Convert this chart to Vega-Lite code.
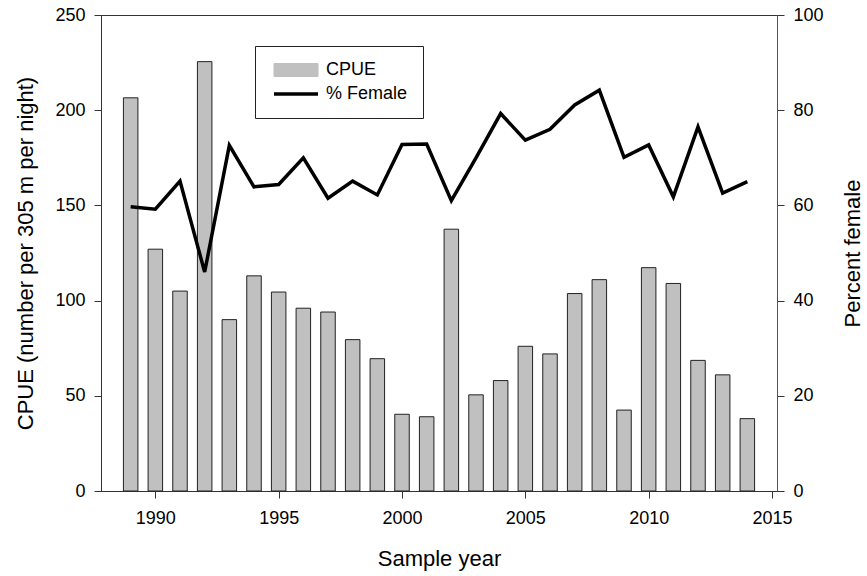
{
  "$schema": "https://vega.github.io/schema/vega-lite/v6.json",
  "width": 676,
  "height": 476,
  "autosize": "none",
  "padding": {"left": 101, "top": 15, "right": 90, "bottom": 85},
  "background": "white",
  "config": {
    "font": "Liberation Sans",
    "view": {"stroke": "#333333", "strokeWidth": 1},
    "axis": {
      "grid": false,
      "labelFont": "Liberation Sans",
      "titleFont": "Liberation Sans",
      "labelFontSize": 18,
      "titleFontSize": 22,
      "titleFontWeight": "normal",
      "labelColor": "black",
      "titleColor": "black",
      "domainColor": "#333333",
      "tickColor": "#333333",
      "tickSize": 7,
      "domainWidth": 1,
      "tickWidth": 1
    }
  },
  "data": {
    "values": [
      {"year": 1989, "cpue": 206.5, "female": 59.7},
      {"year": 1990, "cpue": 127.0, "female": 59.2},
      {"year": 1991, "cpue": 105.0, "female": 65.1},
      {"year": 1992, "cpue": 225.5, "female": 46.0},
      {"year": 1993, "cpue": 90.0, "female": 72.6},
      {"year": 1994, "cpue": 113.0, "female": 63.9},
      {"year": 1995, "cpue": 104.5, "female": 64.4},
      {"year": 1996, "cpue": 96.0, "female": 70.0},
      {"year": 1997, "cpue": 94.0, "female": 61.5},
      {"year": 1998, "cpue": 79.5, "female": 65.1},
      {"year": 1999, "cpue": 69.5, "female": 62.2},
      {"year": 2000, "cpue": 40.3, "female": 72.8},
      {"year": 2001, "cpue": 39.0, "female": 72.9},
      {"year": 2002, "cpue": 137.5, "female": 61.0},
      {"year": 2003, "cpue": 50.5, "female": 70.0},
      {"year": 2004, "cpue": 58.0, "female": 79.3},
      {"year": 2005, "cpue": 76.0, "female": 73.7},
      {"year": 2006, "cpue": 72.0, "female": 76.0},
      {"year": 2007, "cpue": 103.7, "female": 81.1},
      {"year": 2008, "cpue": 111.0, "female": 84.2},
      {"year": 2009, "cpue": 42.5, "female": 70.1},
      {"year": 2010, "cpue": 117.3, "female": 72.7},
      {"year": 2011, "cpue": 109.0, "female": 61.8},
      {"year": 2012, "cpue": 68.6, "female": 76.5},
      {"year": 2013, "cpue": 61.0, "female": 62.6},
      {"year": 2014, "cpue": 38.0, "female": 65.0}
    ]
  },
  "encoding": {
    "x": {
      "field": "year",
      "type": "quantitative",
      "scale": {"domain": [1988, 2015], "nice": false, "zero": false},
      "axis": {
        "title": "Sample year",
        "values": [1990, 1995, 2000, 2005, 2010, 2015],
        "format": "d",
        "labelPadding": 11,
        "titlePadding": 21,
        "labelFlush": false
      }
    }
  },
  "layer": [
    {
      "mark": {"type": "bar", "size": 14.5, "stroke": "#222222", "strokeWidth": 1},
      "encoding": {
        "y": {
          "field": "cpue",
          "type": "quantitative",
          "scale": {"domain": [0, 250], "nice": false},
          "axis": {
            "title": "CPUE (number per 305 m per night)",
            "orient": "left",
            "values": [0, 50, 100, 150, 200, 250],
            "labelPadding": 9,
            "titlePadding": 17,
            "labelFlush": false
          }
        },
        "color": {
          "datum": "CPUE",
          "type": "nominal",
          "scale": {"domain": ["CPUE", "% Female"], "range": ["#c0c0c0", "#000000"]},
          "legend": {
            "title": null,
            "orient": "none",
            "legendX": 154,
            "legendY": 31,
            "padding": 15,
            "rowPadding": 6,
            "strokeColor": "#222222",
            "fillColor": "white",
            "labelFont": "Liberation Sans",
            "labelFontSize": 18,
            "labelColor": "black",
            "symbolSize": 100,
            "labelOffset": 38,
            "encode": {
              "symbols": {
                "update": {
                  "shape": {"signal": "datum.value === 'CPUE' ? 'M-1,-1.3H7.8V1.3H-1Z' : 'M-1,0H7.8'"},
                  "fill": {"signal": "datum.value === 'CPUE' ? '#c0c0c0' : 'transparent'"},
                  "stroke": {"value": "black"},
                  "strokeWidth": {"signal": "datum.value === 'CPUE' ? 1 : 3.5"},
                  "size": {"value": 100},
                  "opacity": {"value": 1},
                  "strokeOpacity": {"value": 1}
                }
              }
            }
          }
        }
      }
    },
    {
      "mark": {"type": "line", "strokeWidth": 3.5, "strokeJoin": "miter"},
      "encoding": {
        "y": {
          "field": "female",
          "type": "quantitative",
          "scale": {"domain": [0, 100], "nice": false},
          "axis": {
            "title": "Percent female",
            "orient": "right",
            "values": [0, 20, 40, 60, 80, 100],
            "labelPadding": 9,
            "titlePadding": 41,
            "titleAngle": 270,
            "labelFlush": false,
            "domainColor": "#555555"
          }
        },
        "color": {
          "datum": "% Female",
          "type": "nominal",
          "scale": {"domain": ["CPUE", "% Female"], "range": ["#c0c0c0", "#000000"]},
          "legend": {
            "title": null,
            "orient": "none",
            "legendX": 154,
            "legendY": 31,
            "padding": 15,
            "rowPadding": 6,
            "strokeColor": "#222222",
            "fillColor": "white",
            "labelFont": "Liberation Sans",
            "labelFontSize": 18,
            "labelColor": "black",
            "symbolSize": 100,
            "labelOffset": 38,
            "encode": {
              "symbols": {
                "update": {
                  "shape": {"signal": "datum.value === 'CPUE' ? 'M-1,-1.3H7.8V1.3H-1Z' : 'M-1,0H7.8'"},
                  "fill": {"signal": "datum.value === 'CPUE' ? '#c0c0c0' : 'transparent'"},
                  "stroke": {"value": "black"},
                  "strokeWidth": {"signal": "datum.value === 'CPUE' ? 1 : 3.5"},
                  "size": {"value": 100},
                  "opacity": {"value": 1},
                  "strokeOpacity": {"value": 1}
                }
              }
            }
          }
        }
      }
    }
  ],
  "resolve": {"scale": {"y": "independent"}, "axis": {"y": "independent"}}
}
